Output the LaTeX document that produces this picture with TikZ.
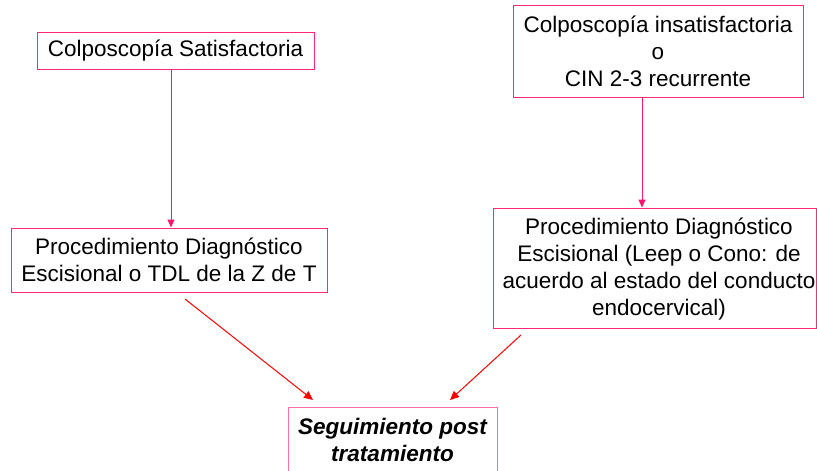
\documentclass[tikz,border=0pt]{standalone}
\usepackage{fontspec}
\setmainfont{Liberation Sans}
\usetikzlibrary{arrows.meta}
\definecolor{boxpink}{RGB}{255,40,120}
\definecolor{lightpink}{RGB}{255,110,165}
\definecolor{arrowpink}{RGB}{255,20,110}
\definecolor{arrowred}{RGB}{255,0,0}
\begin{document}
\begin{tikzpicture}[x=1pt,y=-1pt,
  box/.style={draw=boxpink, line width=1pt, fill=white, inner sep=0pt, align=center,
    font=\fontsize{22.5}{27}\selectfont, text=black},
  pinkarrow/.style={draw=arrowpink, line width=1pt, -{Triangle[length=8pt,width=7pt]}},
  redarrow/.style={draw=arrowred, line width=1pt, -{Triangle[length=9pt,width=8pt]}}]
\useasboundingbox (0,0) rectangle (817,471);
\node[box, minimum width=277pt, minimum height=37pt] (b1) at (175.5,50.5) {Colposcopía Satisfactoria};
\node[box, minimum width=290pt, minimum height=92pt] (b2) at (658,51) {Colposcopía insatisfactoria\\o\\CIN 2-3 recurrente};
\node[box, minimum width=316pt, minimum height=64pt] (b3) at (169,260) {Procedimiento Diagnóstico\\Escisional o TDL de la Z de T};
\node[box, minimum width=323pt, minimum height=120pt] (b4) at (654.5,268) {};
\node[align=center, font=\fontsize{22.5}{27}\selectfont, inner sep=0pt] (b4t) at (659,269) {Procedimiento Diagnóstico\\Escisional (Leep o Cono: de\\acuerdo al estado del conducto\\endocervical)};
\node[box, draw=lightpink, minimum width=209pt, minimum height=70pt, anchor=north,
  font=\fontsize{22.5}{27}\selectfont\bfseries\itshape] (b5) at (392.5,407) {};
\node[align=center, inner sep=0pt, font=\fontsize{22.5}{27}\selectfont\bfseries\itshape] (b5t) at (392.5,440) {Seguimiento post\\tratamiento};
\draw[pinkarrow] ([xshift=-4.5pt]b1.south) -- ([xshift=-4.5pt]b1.south |- b3.north);
\draw[pinkarrow] ([xshift=-16pt]b2.south) -- ([xshift=-16pt]b2.south |- b4.north);
\coordinate (r1s) at (185,299);
\coordinate (r1e) at (313,400);
\coordinate (r2s) at (521,335);
\coordinate (r2e) at (450,400);
\draw[redarrow] (r1s) -- (r1e);
\draw[redarrow] (r2s) -- (r2e);
\end{tikzpicture}
\end{document}
